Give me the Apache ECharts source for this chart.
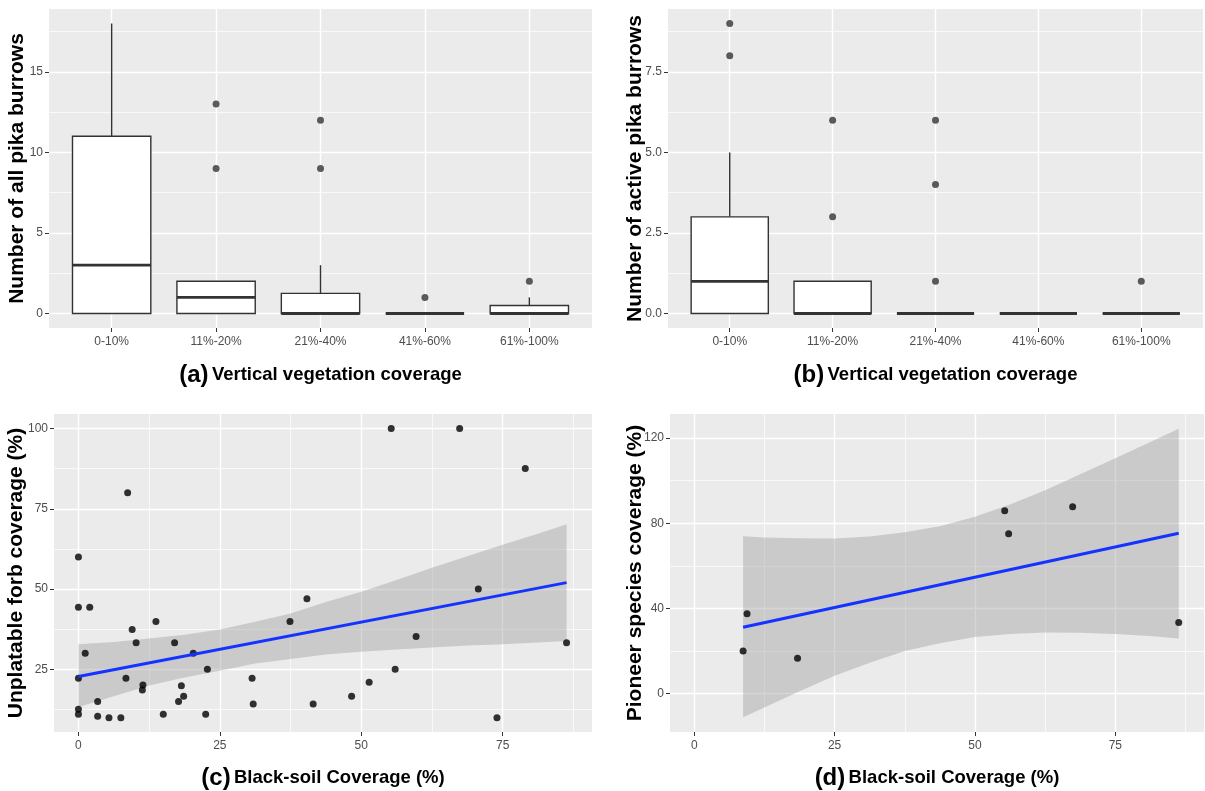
<!DOCTYPE html>
<html>
<head>
<meta charset="utf-8">
<script src="https://cdn.jsdelivr.net/npm/echarts@6/dist/echarts.min.js"></script>
<style>
html,body{margin:0;padding:0;background:#fff;}
#chart{width:1205px;height:791px;}
</style>
</head>
<body>
<div id="chart"></div>
<script>
// ---------- data ----------
const categories = ['0-10%', '11%-20%', '21%-40%', '41%-60%', '61%-100%'];
const catTicks = [0, 1, 2, 3, 4];

// (a) all pika burrows: [lower whisker, Q1, median, Q3, upper whisker]
const boxAll = [[0, 0, 3, 11, 18], [0, 0, 1, 2, 2], [0, 0, 0, 1.25, 3], [0, 0, 0, 0, 0], [0, 0, 0, 0.5, 1]];
const outlierAllCat = ['11%-20%', '11%-20%', '21%-40%', '21%-40%', '41%-60%', '61%-100%'];
const outlierAllVal = [9, 13, 9, 12, 1, 2];

// (b) active pika burrows
const boxActive = [[0, 0, 1, 3, 5], [0, 0, 0, 1, 1], [0, 0, 0, 0, 0], [0, 0, 0, 0, 0], [0, 0, 0, 0, 0]];
const outlierActCat = ['0-10%', '0-10%', '11%-20%', '11%-20%', '21%-40%', '21%-40%', '21%-40%', '61%-100%'];
const outlierActVal = [8, 9, 3, 6, 1, 4, 6, 1];

// (c) black-soil coverage vs unplatable forb coverage
const soilC = [0, 0, 2.0, 8.7, 1.2, 0, 0, 0, 3.4, 3.4, 5.4, 7.5, 8.4, 9.5, 10.2, 11.4, 11.3, 13.7, 15.0, 17.0, 17.7, 18.2, 18.6, 20.3, 22.5, 22.8, 30.7, 30.9, 37.4, 40.4, 41.5, 48.3, 51.4, 55.3, 56.0, 59.7, 67.4, 70.7, 74.0, 79.0, 86.3];
const forbC = [60, 44.3, 44.3, 80, 30, 22.2, 12.6, 11.0, 15.0, 10.4, 9.9, 9.9, 22.2, 37.4, 33.3, 20.1, 18.6, 39.9, 11.0, 33.3, 15.0, 19.9, 16.6, 30.0, 11.0, 25.0, 22.2, 14.2, 39.9, 47.0, 14.2, 16.6, 21.0, 100, 25.0, 35.2, 100, 50.0, 9.9, 87.5, 33.3];
const fitXc = [0, 86.3];
const fitYc = [22.8, 52.0];
const bandXc = [0, 6.25, 12.5, 18.75, 25, 31.25, 37.5, 43.75, 50, 56.25, 62.5, 68.75, 75, 81.25, 86.3];
const bandUpC = [32.8, 33.5, 34.6, 35.8, 37.4, 39.8, 42.4, 46.0, 49.2, 52.8, 56.6, 60.2, 63.8, 67.2, 70.2];
const bandLoC = [13.3, 16.6, 20.0, 22.5, 24.6, 26.8, 28.2, 29.6, 30.5, 31.2, 31.8, 32.4, 32.8, 33.4, 33.8];

// (d) black-soil coverage vs pioneer species coverage
const soilD = [8.7, 9.4, 18.4, 55.3, 56.0, 67.4, 86.3];
const pioneerD = [20.0, 37.5, 16.6, 85.8, 75.0, 87.7, 33.3];
const fitXd = [8.7, 86.3];
const fitYd = [31.1, 75.3];
const bandXd = [8.7, 12.5, 18.75, 25, 31.25, 37.5, 43.75, 50, 56.25, 62.5, 68.75, 75, 81.25, 86.3];
const bandUpD = [73.9, 73.3, 72.9, 72.8, 73.7, 75.8, 78.6, 83.0, 88.8, 95.5, 103.0, 110.5, 118.2, 124.4];
const bandLoD = [-11.2, -6.6, 1.1, 8.3, 14.4, 20.0, 23.6, 26.5, 28.0, 28.7, 28.5, 28.0, 27.0, 25.8];

// ---------- styling helpers ----------
const sans = "'Liberation Sans',Arial,'DejaVu Sans',sans-serif";
const tickColor = '#4D4D4D';
const gridBg = '#EBEBEB';
const fitColor = '#1433FF';

function majorAxis(opts) {
  return Object.assign({
    type: 'value',
    axisLine: {show: false, onZero: false},
    axisTick: {show: true, length: 4, lineStyle: {color: '#333', width: 1}, customValues: opts.ticks},
    axisLabel: {show: true, customValues: opts.ticks, color: tickColor, fontFamily: sans, fontSize: 12, margin: opts.margin || 6,
      formatter: opts.formatter},
    splitLine: {show: true, lineStyle: {color: '#fff', width: 1.4}},
    minorTick: {show: false},
    nameLocation: 'middle',
    nameTextStyle: opts.nameStyle
  }, opts.extra);
}
function minorAxis(gridIndex, min, max, ticks) {
  return {
    type: 'value', gridIndex: gridIndex, min: min, max: max,
    axisLine: {show: false, onZero: false},
    axisTick: {show: false, customValues: ticks},
    axisLabel: {show: false, customValues: ticks},
    splitLine: {show: true, lineStyle: {color: '#fff', width: 0.7}}
  };
}
const yNameStyle = {fontFamily: sans, fontWeight: 'bold', fontSize: 21, color: '#000'};
const xNameStyle = {
  rich: {
    p: {fontFamily: sans, fontWeight: 'bold', fontSize: 24, color: '#000'},
    t: {fontFamily: sans, fontWeight: 'bold', fontSize: 18.5, color: '#000'}
  }
};
const catFormatter = v => categories[Math.round(v)] || '';

function boxRender(params, api) {
  const x = api.value(0);
  const lo = api.coord([x, api.value(1)]);
  const q1 = api.coord([x, api.value(2)]);
  const md = api.coord([x, api.value(3)]);
  const q3 = api.coord([x, api.value(4)]);
  const hi = api.coord([x, api.value(5)]);
  const half = api.size([0.75, 0])[0] / 2;
  const st = {stroke: '#333', lineWidth: 1.4};
  return {
    type: 'group',
    children: [
      {type: 'line', shape: {x1: lo[0], y1: lo[1], x2: q1[0], y2: q1[1]}, style: st},
      {type: 'line', shape: {x1: q3[0], y1: q3[1], x2: hi[0], y2: hi[1]}, style: st},
      {type: 'rect', shape: {x: q1[0] - half, y: q3[1], width: half * 2, height: q1[1] - q3[1]},
        style: {fill: '#fff', stroke: '#333', lineWidth: 1.4}},
      {type: 'line', shape: {x1: md[0] - half, y1: md[1], x2: md[0] + half, y2: md[1]},
        style: {stroke: '#333', lineWidth: 2.8}}
    ]
  };
}
function bandRender(xs, up, lo) {
  return function (params, api) {
    if (params.dataIndex !== 0) return null;
    const pts = [];
    for (let i = 0; i < xs.length; i++) pts.push(api.coord([xs[i], up[i]]));
    for (let i = xs.length - 1; i >= 0; i--) pts.push(api.coord([xs[i], lo[i]]));
    return {type: 'polygon', shape: {points: pts}, style: {fill: 'rgba(153,153,153,0.4)'}};
  };
}
const boxData = arr => arr.map((b, i) => [i].concat(b));
const outData = (cats, vals) => cats.map((c, i) => [categories.indexOf(c), vals[i]]);
const zip = (a, b) => a.map((v, i) => [v, b[i]]);

const option = {
  animation: false,
  backgroundColor: '#fff',
  grid: [
    {left: 49, top: 9, width: 543, height: 319, show: true, backgroundColor: gridBg, borderWidth: 0},
    {left: 668, top: 9, width: 535, height: 319, show: true, backgroundColor: gridBg, borderWidth: 0},
    {left: 54, top: 414, width: 538, height: 319, show: true, backgroundColor: gridBg, borderWidth: 0},
    {left: 670, top: 414, width: 534, height: 319, show: true, backgroundColor: gridBg, borderWidth: 0}
  ],
  xAxis: [
    majorAxis({ticks: catTicks, formatter: catFormatter, margin: 8, nameStyle: xNameStyle,
      extra: {gridIndex: 0, min: -0.6, max: 4.6, name: '{p|(a)} {t|Vertical vegetation coverage}', nameGap: 35}}),
    majorAxis({ticks: catTicks, formatter: catFormatter, margin: 8, nameStyle: xNameStyle,
      extra: {gridIndex: 1, min: -0.6, max: 4.6, name: '{p|(b)} {t|Vertical vegetation coverage}', nameGap: 35}}),
    majorAxis({ticks: [0, 25, 50, 75], margin: 8, nameStyle: xNameStyle,
      extra: {gridIndex: 2, min: -4.32, max: 90.8, name: '{p|(c)} {t|Black-soil Coverage (%)}', nameGap: 34}}),
    majorAxis({ticks: [0, 25, 50, 75], margin: 8, nameStyle: xNameStyle,
      extra: {gridIndex: 3, min: -4.32, max: 90.8, name: '{p|(d)} {t|Black-soil Coverage (%)}', nameGap: 34}}),
    minorAxis(2, -4.32, 90.8, [12.5, 37.5, 62.5, 87.5]),
    minorAxis(3, -4.32, 90.8, [12.5, 37.5, 62.5, 87.5])
  ],
  yAxis: [
    majorAxis({ticks: [0, 5, 10, 15], nameStyle: yNameStyle,
      extra: {gridIndex: 0, min: -0.9, max: 18.9, name: 'Number of all pika burrows', nameRotate: 90, nameGap: 21, nameMoveOverlap: false}}),
    majorAxis({ticks: [0, 2.5, 5, 7.5], formatter: v => v.toFixed(1), nameStyle: yNameStyle,
      extra: {gridIndex: 1, min: -0.45, max: 9.45, name: 'Number of active pika burrows', nameRotate: 90, nameGap: 22.5, nameMoveOverlap: false}}),
    majorAxis({ticks: [25, 50, 75, 100], nameStyle: yNameStyle,
      extra: {gridIndex: 2, min: 5.5, max: 104.5, name: 'Unplatable forb coverage (%)', nameRotate: 90, nameGap: 27, nameMoveOverlap: false}}),
    majorAxis({ticks: [0, 40, 80, 120], nameStyle: yNameStyle,
      extra: {gridIndex: 3, min: -18.1, max: 131.3, name: 'Pioneer species coverage (%)', nameRotate: 90, nameGap: 24.5, nameMoveOverlap: false}}),
    minorAxis(0, -0.9, 18.9, [2.5, 7.5, 12.5, 17.5]),
    minorAxis(1, -0.45, 9.45, [1.25, 3.75, 6.25, 8.75]),
    minorAxis(2, 5.5, 104.5, [12.5, 37.5, 62.5, 87.5]),
    minorAxis(3, -18.1, 131.3, [20, 60, 100])
  ],
  series: [
    // (a)
    {type: 'custom', xAxisIndex: 0, yAxisIndex: 0, renderItem: boxRender, data: boxData(boxAll), silent: true},
    {type: 'scatter', xAxisIndex: 0, yAxisIndex: 0, data: outData(outlierAllCat, outlierAllVal), symbolSize: 7,
      itemStyle: {color: '#333'}, silent: true},
    // (b)
    {type: 'custom', xAxisIndex: 1, yAxisIndex: 1, renderItem: boxRender, data: boxData(boxActive), silent: true},
    {type: 'scatter', xAxisIndex: 1, yAxisIndex: 1, data: outData(outlierActCat, outlierActVal), symbolSize: 7,
      itemStyle: {color: '#333'}, silent: true},
    // (c)
    {type: 'scatter', xAxisIndex: 2, yAxisIndex: 2, data: zip(soilC, forbC), symbolSize: 7,
      itemStyle: {color: '#000'}, silent: true},
    {type: 'custom', xAxisIndex: 2, yAxisIndex: 2, renderItem: bandRender(bandXc, bandUpC, bandLoC),
      data: bandXc.map((x, i) => [x, bandLoC[i], bandUpC[i]]), silent: true},
    {type: 'line', xAxisIndex: 2, yAxisIndex: 2, data: zip(fitXc, fitYc), showSymbol: false,
      lineStyle: {color: fitColor, width: 3}, silent: true},
    // (d)
    {type: 'scatter', xAxisIndex: 3, yAxisIndex: 3, data: zip(soilD, pioneerD), symbolSize: 7,
      itemStyle: {color: '#000'}, silent: true},
    {type: 'custom', xAxisIndex: 3, yAxisIndex: 3, renderItem: bandRender(bandXd, bandUpD, bandLoD),
      data: bandXd.map((x, i) => [x, bandLoD[i], bandUpD[i]]), silent: true},
    {type: 'line', xAxisIndex: 3, yAxisIndex: 3, data: zip(fitXd, fitYd), showSymbol: false,
      lineStyle: {color: fitColor, width: 3}, silent: true}
  ]
};
const chart = echarts.init(document.getElementById('chart'), null, {renderer: 'canvas'});
chart.setOption(option);
</script>
</body>
</html>
